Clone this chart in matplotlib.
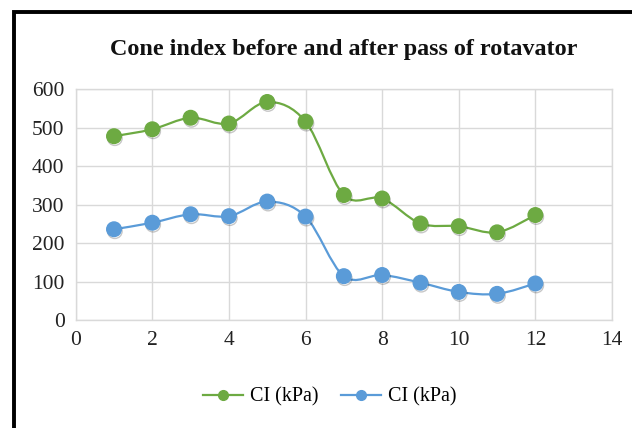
import matplotlib
matplotlib.use("Agg")
import matplotlib.pyplot as plt
from matplotlib.path import Path
from matplotlib.patches import PathPatch, Rectangle
import matplotlib.patheffects as pe
from matplotlib.lines import Line2D

x_vals = [1, 2, 3, 4, 5, 6, 7, 8, 9, 10, 11, 12]
ci_before = [478, 496, 526, 511, 567, 516, 325, 316, 251, 244, 228, 273]
ci_after = [236, 253, 275, 270, 308, 269, 114, 117, 97, 73, 68, 95]
series_labels = ["CI (kPa)", "CI (kPa)"]
title = "Cone index before and after pass of rotavator"
x_ticks = [0, 2, 4, 6, 8, 10, 12, 14]
y_ticks = [0, 100, 200, 300, 400, 500, 600]

GREEN = "#6DAA42"
BLUE = "#5A9BD8"
FONT = "Liberation Serif"

W, H = 632, 428
fig = plt.figure(figsize=(W / 100, H / 100), dpi=100)
ax = fig.add_axes([75.7 / W, 1 - 320 / H, (612 - 75.7) / W, (320 - 89.3) / H])


def smooth_path(xs, ys):
    verts = [(xs[0], ys[0])]
    codes = [Path.MOVETO]
    n = len(xs)
    for i in range(n - 1):
        x0, y0 = (xs[i - 1], ys[i - 1]) if i > 0 else (xs[i], ys[i])
        x1, y1 = xs[i], ys[i]
        x2, y2 = xs[i + 1], ys[i + 1]
        x3, y3 = (xs[i + 2], ys[i + 2]) if i + 2 < n else (x2, y2)
        c1 = (x1 + (x2 - x0) / 6, y1 + (y2 - y0) / 6)
        c2 = (x2 - (x3 - x1) / 6, y2 - (y3 - y1) / 6)
        verts += [c1, c2, (x2, y2)]
        codes += [Path.CURVE4] * 3
    return Path(verts, codes)


shadow = [pe.SimpleLineShadow(offset=(0.6, -1.4), shadow_color="black", alpha=0.22), pe.Normal()]
for ys, col in [(ci_before, GREEN), (ci_after, BLUE)]:
    patch = PathPatch(smooth_path(x_vals, ys), facecolor="none", edgecolor=col, lw=1.6, zorder=3)
    ax.add_patch(patch)
    ax.plot(x_vals, ys, linestyle="none", marker="o", markersize=10.5, color=col,
            markeredgecolor=col, zorder=4,
            path_effects=shadow)

ax.set_xlim(0, 14)
ax.set_ylim(0, 600)
ax.set_xticks(x_ticks)
ax.set_yticks(y_ticks)
ax.grid(True, color="#d9d9d9", lw=1.0)
ax.set_axisbelow(True)
for s in ax.spines.values():
    s.set_color("#d9d9d9")
    s.set_linewidth(1.0)
ax.tick_params(length=0, labelsize=15.5, colors="#222222", pad=8)
for lab in ax.get_xticklabels() + ax.get_yticklabels():
    lab.set_fontfamily(FONT)

fig.text(344 / W, 1 - 50 / H, title, ha="center", va="center",
         fontsize=17.4, fontweight="bold", fontfamily=FONT, color="#111111")

handles = [Line2D([], [], color=GREEN, lw=1.6, marker="o", markersize=7),
           Line2D([], [], color=BLUE, lw=1.6, marker="o", markersize=7)]
fig.legend(handles, series_labels, loc="center", bbox_to_anchor=(330 / W, 1 - 397 / H),
           ncol=2, frameon=False, prop={"family": FONT, "size": 14.5},
           handlelength=2.0, columnspacing=1.1, handletextpad=0.35)

# outer black frame (left and top visible)
fig.patches.append(Rectangle((13.5 / W, -0.05), 1.2, 1 - 11.5 / H + 0.05, transform=fig.transFigure,
                             fill=False, edgecolor="black", lw=2.8, zorder=10))

fig.savefig("out.png", dpi=100, facecolor="white")
